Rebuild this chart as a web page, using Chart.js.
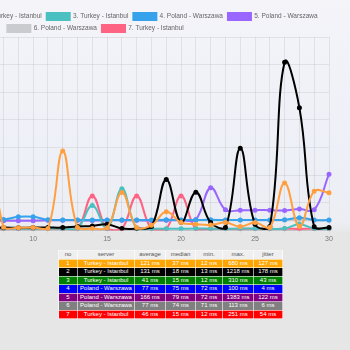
<!DOCTYPE html>
<html>
<head>
<meta charset="utf-8">
<script src="https://cdn.jsdelivr.net/npm/chart.js@4"></script>
<style>
  html, body { margin: 0; padding: 0; }
  body {
    width: 350px; height: 350px; overflow: hidden; position: relative;
    background: linear-gradient(to bottom, #f4f4f9 0px, #eef0f7 150px, #eceef4 222px, #e6e6e6 234px, #e6e6e6 350px);
    font-family: "Liberation Sans", Arial, sans-serif;
  }
  #chartBox { position: absolute; left: -138px; top: 0; width: 478px; height: 245px; }
  #stats {
    position: absolute; left: 58px; top: 250px; width: 224px;
    border-collapse: collapse; font-size: 6px; table-layout: fixed;
  }
  #stats td, #stats th {
    border: 1px solid rgba(255,255,255,0.6); height: 7.5px; padding: 0;
    text-align: center; color: #fff; font-weight: normal; line-height: 7px;
  }
  #stats th { background: #efefef; color: #555; }
</style>
</head>
<body>
<div id="chartBox"><canvas id="lineChart"></canvas></div>
<table id="stats"></table>
<script>
const days = Array.from({ length: 30 }, (_, i) => String(i + 1));

const serverNames = [
  '1. Turkey - Istanbul', '2. Turkey - Istanbul', '3. Turkey - Istanbul',
  '4. Poland - Warszawa', '5. Poland - Warszawa', '6. Poland - Warszawa',
  '7. Turkey - Istanbul'
];

// ping per day (ms), days 1..30
const turkey1 = [30, 25, 40, 20, 35, 22, 680, 25, 20, 22, 15, 576, 22, 15, 20, 275, 22, 39, 137, 58, 46, 41, 58, 29, 58, 22, 344, 29, 285, 273];
const turkey2 = [20, 18, 25, 15, 30, 20, 18, 22, 20, 22, 22, 22, 30, 34, 46, 15, 15, 30, 370, 60, 278, 58, 22, 595, 46, 29, 1218, 888, 27, 22];
const turkey3 = [15, 12, 18, 14, 20, 13, 15, 15, 14, 13, 15, 14, 15, 181, 14, 302, 15, 13, 14, 13, 15, 14, 13, 15, 14, 13, 15, 46, 14, 13];
const poland4 = [77, 76, 78, 75, 77, 76, 78, 80, 100, 100, 78, 77, 76, 77, 76, 77, 76, 77, 78, 76, 77, 78, 76, 77, 76, 77, 78, 93, 77, 76];
const poland5 = [75, 1383, 80, 74, 90, 76, 75, 72, 72, 72, 74, 75, 74, 73, 74, 75, 74, 73, 74, 75, 80, 310, 150, 147, 148, 148, 145, 157, 150, 408];
const poland6 = [74, 75, 73, 74, 113, 72, 74, 75, 74, 73, 74, 75, 74, 73, 74, 75, 74, 73, 74, 75, 74, 73, 74, 75, 74, 73, 74, 75, 74, 73];
const turkey7 = [12, 14, 15, 13, 12, 14, 13, 12, 13, 12, 13, 12, 13, 251, 12, 13, 251, 13, 12, 250, 13, 12, 13, 12, 14, 12, 13, 12, 13, 12];

const lineColors = [
  'rgb(255, 159, 64)', 'rgb(0, 0, 0)', 'rgb(75, 192, 192)', 'rgb(54, 162, 235)',
  'rgb(153, 102, 255)', 'rgb(201, 203, 207)', 'rgb(255, 99, 132)'
];

// summary table
const tableHead = ['no', 'server', 'average', 'median', 'min.', 'max.', 'jitter'];
const tableServers = ['Turkey - Istanbul', 'Turkey - Istanbul', 'Turkey - Istanbul', 'Poland - Warszawa', 'Poland - Warszawa', 'Poland - Warszawa', 'Turkey - Istanbul'];
const avgMs = [121, 131, 41, 77, 166, 77, 46];
const medianMs = [37, 18, 15, 75, 79, 74, 15];
const minMs = [12, 13, 12, 72, 72, 71, 12];
const maxMs = [680, 1218, 310, 100, 1383, 113, 251];
const jitterMs = [127, 178, 43, 4, 122, 6, 54];
const rowColors = ['#ffa500', '#000000', '#008000', '#0000ff', '#800080', '#808080', '#ff0000'];

const series = [turkey1, turkey2, turkey3, poland4, poland5, poland6, turkey7];

// pull the plot a bit closer to the legend
const tightLegend = {
    id: 'tightLegend',
    beforeInit(chart) {
        const origFit = chart.legend.fit;
        chart.legend.fit = function() {
            origFit.bind(chart.legend)();
            this.height -= 5;
        };
    }
};

window.onload = function() {
    const ctx = document.getElementById('lineChart').getContext('2d');

    new Chart(ctx, {
        type: 'line',
        data: {
            labels: days,
            datasets: series.map((values, i) => ({
                label: serverNames[i],
                data: values,
                borderColor: lineColors[i],
                backgroundColor: lineColors[i],
                borderWidth: 2,
                pointRadius: 1.5,
                tension: 0.4,
                fill: false
            }))
        },
        options: {
            responsive: true,
            maintainAspectRatio: false,
            animation: false,
            layout: { padding: { top: 8, right: 11, bottom: 0, left: 0 } },
            plugins: {
                legend: {
                    labels: {
                        boxWidth: 23,
                        boxHeight: 7,
                        padding: 5,
                        color: '#666',
                        font: { size: 6.5 }
                    }
                },
                tooltip: { enabled: false }
            },
            scales: {
                x: {
                    grid: { color: 'rgba(0,0,0,0.07)', tickLength: 2 },
                    ticks: {
                        autoSkip: false,
                        maxRotation: 0,
                        padding: 2,
                        color: '#777',
                        font: { size: 7 },
                        callback: function(value, index) {
                            const d = index + 1;
                            return d % 5 === 0 ? String(d) : '';
                        }
                    }
                },
                y: {
                    min: 0,
                    max: 1400,
                    grid: { color: 'rgba(0,0,0,0.07)' },
                    ticks: { stepSize: 200, display: false },
                    afterFit: function(scale) { scale.width = 38; }
                }
            }
        },
        plugins: [tightLegend]
    });

    // build the stats table
    const table = document.getElementById('stats');
    const colWidths = [19, 57, 31, 30, 27, 31, 29];
    let html = '<colgroup>' + colWidths.map(w => `<col style="width:${w}px">`).join('') + '</colgroup>';
    html += '<tr>' + tableHead.map(h => `<th>${h}</th>`).join('') + '</tr>';
    tableServers.forEach((name, i) => {
        html += `<tr style="background:${rowColors[i]}">` +
            `<td>${i + 1}</td><td>${name}</td><td>${avgMs[i]} ms</td><td>${medianMs[i]} ms</td>` +
            `<td>${minMs[i]} ms</td><td>${maxMs[i]} ms</td><td>${jitterMs[i]} ms</td></tr>`;
    });
    table.innerHTML = html;
};
</script>
</body>
</html>
